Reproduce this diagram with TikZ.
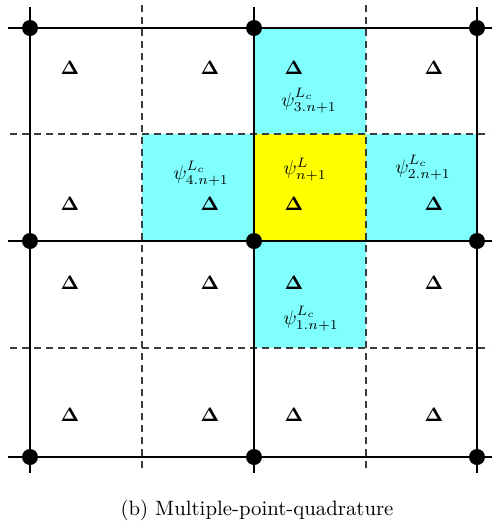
\documentclass[tikz,border=0pt]{standalone}
\definecolor{cellcyan}{RGB}{128, 255, 255}
\definecolor{cellyellow}{RGB}{255, 255, 0}
\definecolor{dashgray}{RGB}{60, 60, 60}
\usepackage{tikz}
\usepackage{graphicx}
\usetikzlibrary{positioning}
\usepackage{amsmath, amssymb}
\newcommand{\bigger}[1]{\scalebox{1.95}{#1}}

\begin{document}
\begin{tikzpicture}[x=1pt, y=-1pt,
  coarse/.style={line width=2pt, black},
  fine/.style={line width=1.4pt, dashgray, dash pattern=on 7pt off 5pt},
  vertexdot/.style={circle, fill=black, inner sep=0pt, minimum size=16pt},
  quadpt/.style={inner sep=0pt},
  psilabel/.style={inner sep=0pt},
  caption/.style={inner sep=0pt}
]
  \useasboundingbox (0,0) rectangle (492,523);
  \fill[cellcyan] (254,28) rectangle (366,134);
  \fill[cellcyan] (142,134) rectangle (254,241);
  \fill[cellyellow] (254,134) rectangle (366,241);
  \fill[cellcyan] (366,134) rectangle (477,241);
  \fill[cellcyan] (254,241) rectangle (366,348);

  \foreach \x in {142, 366}
    \draw[fine] (\x,5) -- (\x,470);
  \foreach \y in {134, 348}
    \draw[fine] (10,\y) -- (490,\y);
  \foreach \x in {30, 254, 477}
    \draw[coarse] (\x,7) -- (\x,473);
  \foreach \y in {28, 241, 457}
    \draw[coarse] (8,\y) -- (492,\y);

  \foreach \x/\i in {30/1, 254/2, 477/3}
    \foreach \y/\j in {28/1, 241/2, 457/3}
      \node[vertexdot] (v\i\j) at (\x,\y) {};

  \foreach \x/\i in {70/1, 210/2, 294/3, 434/4}
    \foreach \y/\j in {68/1, 204/2, 283/3, 415/4}
      \node[quadpt] (q\i\j) at (\x,\y) {\bigger{$\boldsymbol{\Delta}$}};

  \node[psilabel] (psi3) at (309,101) {\bigger{$\psi^{L_c}_{3.n+1}$}};
  \node[psilabel] (psi4) at (201,174) {\bigger{$\psi^{L_c}_{4.n+1}$}};
  \node[psilabel] (psi) at (305,170) {\bigger{$\psi^{L}_{n+1}$}};
  \node[psilabel] (psi2) at (423,168) {\bigger{$\psi^{L_c}_{2.n+1}$}};
  \node[psilabel] (psi1) at (311,319) {\bigger{$\psi^{L_c}_{1.n+1}$}};

  \node[caption] (cap) at (257,510) {\scalebox{2.08}{(b) Multiple-point-quadrature}};
\end{tikzpicture}
\end{document}
